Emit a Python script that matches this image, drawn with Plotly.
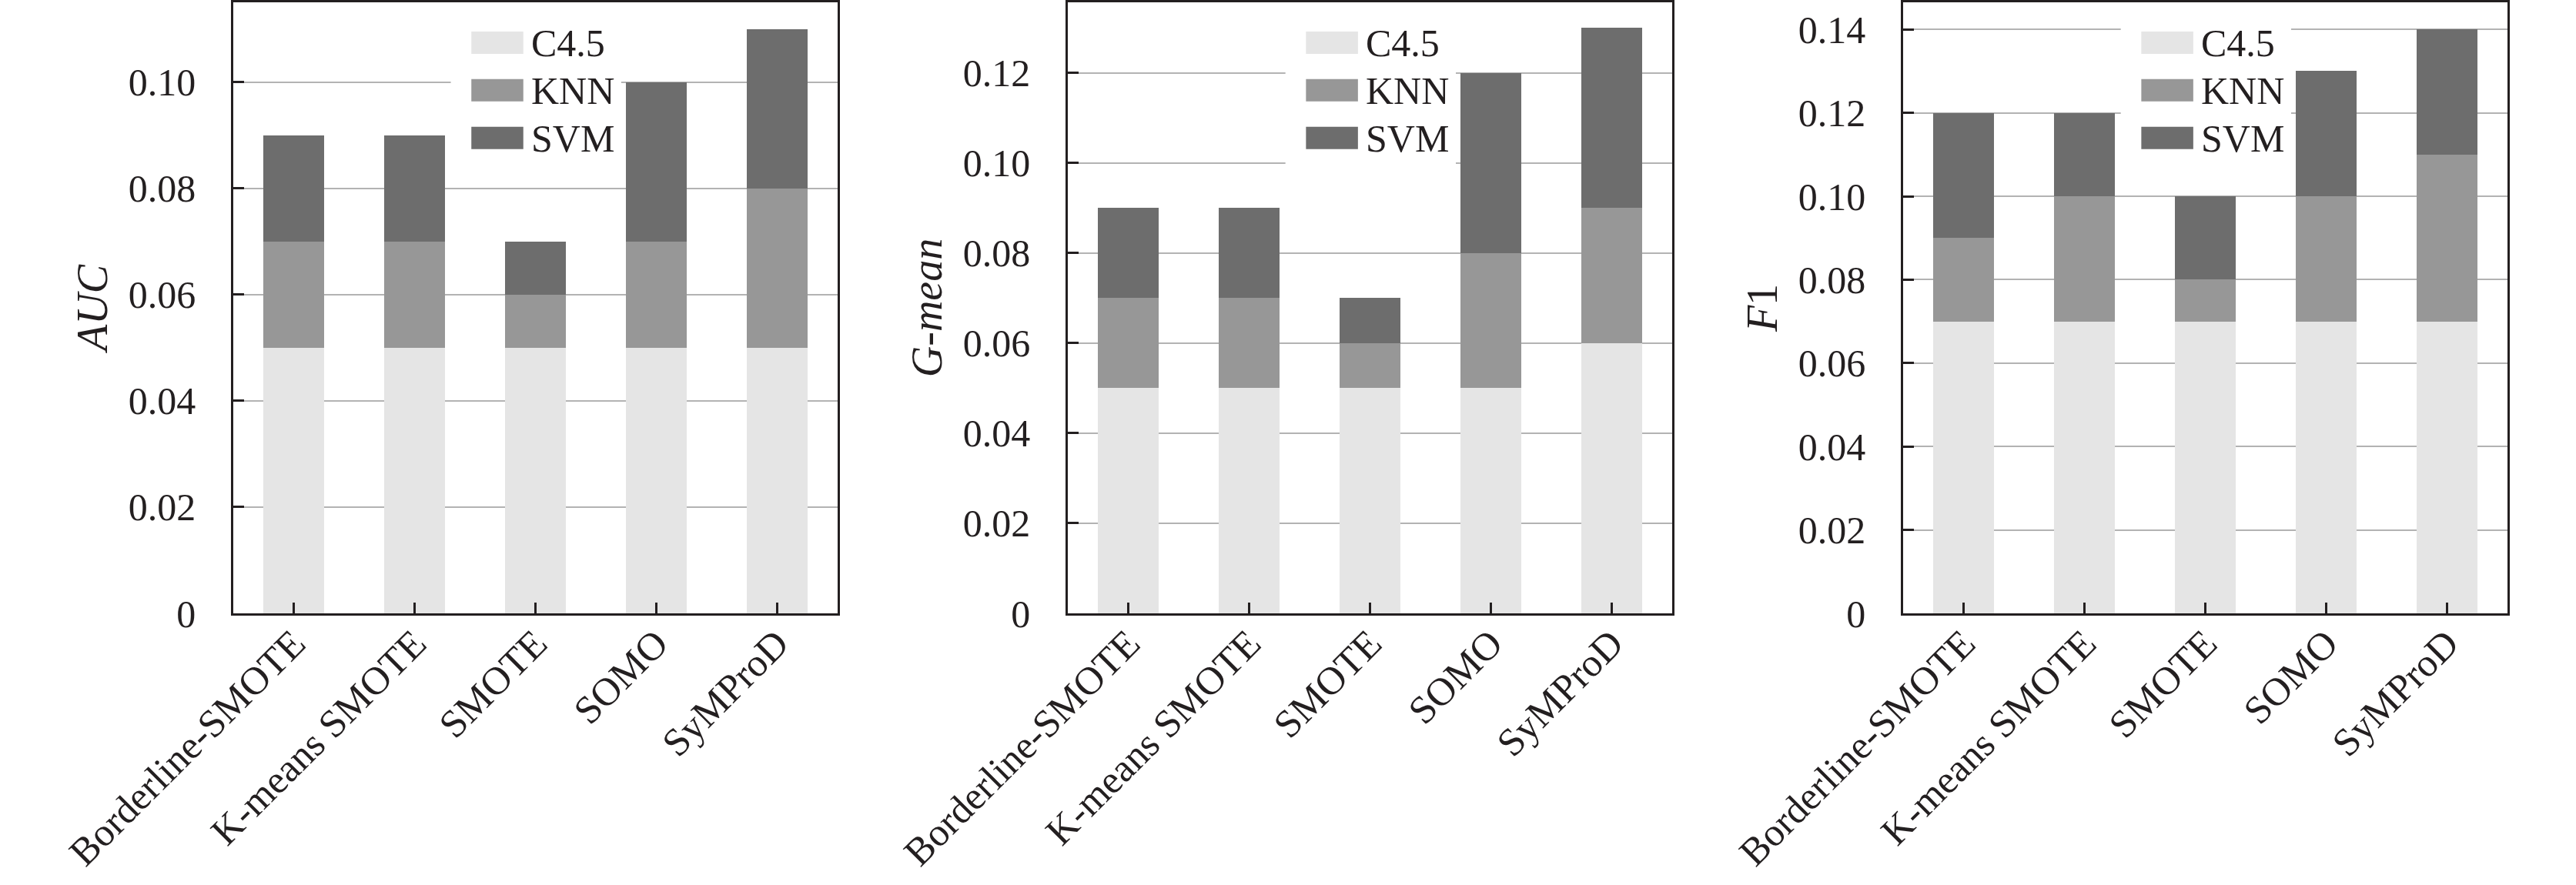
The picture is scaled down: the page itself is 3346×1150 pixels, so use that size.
import plotly.graph_objects as go
from plotly.subplots import make_subplots

# Data (stacked segments per classifier)
methods = ["Borderline-SMOTE", "K-means SMOTE", "SMOTE", "SOMO", "SyMProD"]
classifiers = ["C4.5", "KNN", "SVM"]

auc_c45 = [0.05, 0.05, 0.05, 0.05, 0.05]
auc_knn = [0.02, 0.02, 0.01, 0.02, 0.03]
auc_svm = [0.02, 0.02, 0.01, 0.03, 0.03]

gmean_c45 = [0.05, 0.05, 0.05, 0.05, 0.06]
gmean_knn = [0.02, 0.02, 0.01, 0.03, 0.03]
gmean_svm = [0.02, 0.02, 0.01, 0.04, 0.04]

f1_c45 = [0.07, 0.07, 0.07, 0.07, 0.07]
f1_knn = [0.02, 0.03, 0.01, 0.03, 0.04]
f1_svm = [0.03, 0.02, 0.02, 0.03, 0.03]

auc_ticks = [0, 0.02, 0.04, 0.06, 0.08, 0.10]
auc_ticktext = ["0", "0.02", "0.04", "0.06", "0.08", "0.10"]
gmean_ticks = [0, 0.02, 0.04, 0.06, 0.08, 0.10, 0.12]
gmean_ticktext = ["0", "0.02", "0.04", "0.06", "0.08", "0.10", "0.12"]
f1_ticks = [0, 0.02, 0.04, 0.06, 0.08, 0.10, 0.12, 0.14]
f1_ticktext = ["0", "0.02", "0.04", "0.06", "0.08", "0.10", "0.12", "0.14"]

colors = ["#e5e5e5", "#979797", "#6d6d6d"]
font = "Liberation Serif"
axis_color = "#231f20"

panels = [
    ([auc_c45, auc_knn, auc_svm], "<i>AUC</i>", auc_ticks, auc_ticktext, 0.115),
    ([gmean_c45, gmean_knn, gmean_svm], "<i>G-mean</i>", gmean_ticks, gmean_ticktext, 0.1357),
    ([f1_c45, f1_knn, f1_svm], "<i>F</i>1", f1_ticks, f1_ticktext, 0.1465),
]

fig = make_subplots(rows=1, cols=3)

for i, (series, title, ticks, ticktext, ymax) in enumerate(panels, start=1):
    for name, vals, col in zip(classifiers, series, colors):
        fig.add_trace(go.Bar(
            x=methods, y=vals, name=name,
            marker=dict(color=col, line=dict(width=0)),
            showlegend=False
        ), row=1, col=i)
    fig.update_yaxes(
        range=[0, ymax], tickvals=ticks, ticktext=ticktext,
        title=dict(text=title, font=dict(size=56, family=font, color="#231f20"), standoff=10),
        row=1, col=i
    )

# Axis styling shared by all panels
fig.update_xaxes(
    showline=True, mirror=True, linecolor=axis_color, linewidth=2.5,
    ticks="inside", ticklen=14, tickwidth=2.5, tickcolor=axis_color,
    tickangle=-45, tickfont=dict(size=51, family=font, color="#231f20"),
    showgrid=False, ticklabelstandoff=-14, automargin=False
)
fig.update_yaxes(
    showline=True, mirror=True, linecolor=axis_color, linewidth=2.5,
    ticks="inside", ticklen=14, tickwidth=2.5, tickcolor=axis_color,
    tickfont=dict(size=50, family=font, color="#231f20"),
    showgrid=True, gridcolor="#b3b3b3", gridwidth=1.5, zeroline=False,
    ticklabelstandoff=36, automargin=False
)

# Hand-drawn legend box inside each panel
plot_bottom, plot_h = 797, 795
def dom_y(px):
    return (plot_bottom - px) / plot_h

shapes, annotations = [], []
for xa, ya in [("x", "y"), ("x2", "y2"), ("x3", "y3")]:
    xr, yr = xa + " domain", ya + " domain"
    shapes.append(dict(type="rect", xref=xr, yref=yr, x0=0.360, x1=0.642,
                       y0=dom_y(222), y1=dom_y(20), fillcolor="white",
                       line=dict(width=0), layer="above"))
    for k, (name, col) in enumerate(zip(classifiers, colors)):
        shapes.append(dict(type="rect", xref=xr, yref=yr, x0=0.394, x1=0.480,
                           y0=dom_y(69 + 62 * k), y1=dom_y(40 + 62 * k),
                           fillcolor=col, line=dict(width=0), layer="above"))
        annotations.append(dict(xref=xr, yref=yr, x=0.490, y=dom_y(55 + 62 * k),
                                xanchor="left", yanchor="middle", showarrow=False,
                                text=name, font=dict(size=50, family=font, color="#231f20")))

fig.update_layout(
    width=3346, height=1150,
    barmode="stack", bargap=0.5,
    plot_bgcolor="white", paper_bgcolor="white",
    margin=dict(l=303, r=89, t=3, b=353),
    xaxis=dict(domain=[0.0, 0.2657]),
    xaxis2=dict(domain=[0.3670, 0.6327]),
    xaxis3=dict(domain=[0.7343, 1.0]),
    shapes=shapes, annotations=annotations,
    font=dict(family=font, color="#231f20")
)

# drop the default page margin so the figure sits at the window origin
fig.write_html("out.html", config={"displayModeBar": False},
               post_script="document.body.style.margin='0px';")
